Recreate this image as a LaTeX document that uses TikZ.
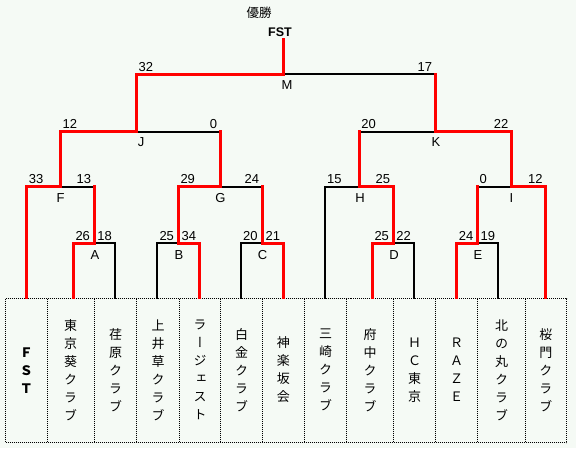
\documentclass[tikz,border=0pt]{standalone}
\usepackage{fontspec}
\setmainfont{Liberation Sans}
\newfontfamily\cjk[RawFeature={+vert}]{Noto Sans CJK JP}
\newfontfamily\cjkh{Noto Sans CJK JP}
\definecolor{bgcol}{RGB}{245,250,245}
\definecolor{wincol}{RGB}{255,0,0}
\tikzset{
  lose/.style={draw=black,line width=2pt,line cap=rect,line join=miter},
  winpath/.style={draw=wincol,line width=3pt,line cap=rect,line join=miter},
  boxline/.style={draw=black,line width=1pt,dash pattern=on 1pt off 1pt},
  lscore/.style={anchor=base west,inner sep=0pt,font=\fontsize{13}{13}\selectfont},
  rscore/.style={anchor=base east,inner sep=0pt,font=\fontsize{13}{13}\selectfont},
  mname/.style={anchor=north,inner sep=0pt,font=\fontsize{13}{13}\selectfont},
  team/.style={align=center,inner sep=0pt,font=\cjk\fontsize{13}{18}\selectfont}
}
\begin{document}
\begin{tikzpicture}[x=1pt,y=-1pt]
\useasboundingbox (0,0) rectangle (576,448);
\fill[bgcol] (0,0) rectangle (576,448);
% leaf tops
\coordinate (l1) at (26.7,297.5);
\coordinate (l2) at (73.3,297.5);
\coordinate (l3) at (115,297.5);
\coordinate (l4) at (157.3,297.5);
\coordinate (l5) at (199.3,297.5);
\coordinate (l6) at (241,297.5);
\coordinate (l7) at (283.3,297.5);
\coordinate (l8) at (325,297.5);
\coordinate (l9) at (372.3,297.5);
\coordinate (l10) at (414,297.5);
\coordinate (l11) at (456.7,297.5);
\coordinate (l12) at (498.3,297.5);
\coordinate (l13) at (545.7,297.5);
% junctions
\coordinate (jA) at (94.2,243);
\coordinate (jB) at (178.3,243);
\coordinate (jC) at (262.2,243);
\coordinate (jD) at (393.2,243);
\coordinate (jE) at (477.5,243);
\coordinate (jF) at (60.4,186.5);
\coordinate (jG) at (220.2,186.5);
\coordinate (jH) at (359.1,186.5);
\coordinate (jI) at (511.6,186.5);
\coordinate (jJ) at (136.5,131.5);
\coordinate (jK) at (435.4,131.5);
\coordinate (jM) at (283.5,74);
\coordinate (champ) at (283.5,39.5);
% boxes
\draw[boxline] (5.5,298.5) rectangle (566.5,442.5);
\foreach \x in {47.3,94.3,136.7,179,220.7,262.3,304.3,346.7,393.3,435.7,477.7,525}
  \draw[boxline] (\x,298.5) -- (\x,442.5);
% team names
\node[team,font=\cjk\bfseries\fontsize{13}{18}\selectfont] (t1) at (26.3,370.5) {Ｆ\\Ｓ\\Ｔ};
\node[team] (t2) at (70.7,370) {東\\京\\葵\\ク\\ラ\\ブ};
\node[team] (t3) at (115.5,370) {荏\\原\\ク\\ラ\\ブ};
\node[team] (t4) at (158,370) {上\\井\\草\\ク\\ラ\\ブ};
\node[team] (t5) at (200,370) {ラ\\ー\\ジ\\ェ\\ス\\ト};
\node[team] (t6) at (241.5,370) {白\\金\\ク\\ラ\\ブ};
\node[team] (t7) at (283.3,370) {神\\楽\\坂\\会};
\node[team] (t8) at (325.5,370) {三\\崎\\ク\\ラ\\ブ};
\node[team] (t9) at (370,370) {府\\中\\ク\\ラ\\ブ};
\node[team] (t10) at (414.7,370) {Ｈ\\Ｃ\\東\\京};
\node[team] (t11) at (456.7,370) {Ｒ\\Ａ\\Ｚ\\Ｅ};
\node[team] (t12) at (501.5,370) {北\\の\\丸\\ク\\ラ\\ブ};
\node[team] (t13) at (545.8,370) {桜\\門\\ク\\ラ\\ブ};
% losing (black) brackets
\draw[lose] (l2) |- (jA) -| (l3);
\draw[lose] (l4) |- (jB) -| (l5);
\draw[lose] (l6) |- (jC) -| (l7);
\draw[lose] (l9) |- (jD) -| (l10);
\draw[lose] (l11) |- (jE) -| (l12);
\draw[lose] (l1) |- (jF) -| (jA);
\draw[lose] (jB) |- (jG) -| (jC);
\draw[lose] (l8) |- (jH) -| (jD);
\draw[lose] (jE) |- (jI) -| (l13);
\draw[lose] (jF) |- (jJ) -| (jG);
\draw[lose] (jH) |- (jK) -| (jI);
\draw[lose] (jJ) |- (jM) -| (jK);
% winning (red) paths
\draw[winpath] (l1) |- (jF) |- (jJ) |- (jM) -- (champ);
\draw[winpath] (l2) |- (jA) -- (jA |- jF);
\draw[winpath] (l5) |- (jB) |- (jG) -- (jG |- jJ);
\draw[winpath] (l7) |- (jC) -- (jC |- jG);
\draw[winpath] (l9) |- (jD) |- (jH) -- (jH |- jK);
\draw[winpath] (l11) |- (jE) -- (jE |- jI);
\draw[winpath] (l13) |- (jI) |- (jK) -- (jK |- jM);
% scores
\node[lscore] (sA1) at (75.3,240) {26};
\node[rscore] (sA2) at (112,240) {18};
\node[lscore] (sB1) at (159.3,240) {25};
\node[rscore] (sB2) at (196.3,240) {34};
\node[lscore] (sC1) at (243,240) {20};
\node[rscore] (sC2) at (280.3,240) {21};
\node[lscore] (sD1) at (374.3,240) {25};
\node[rscore] (sD2) at (411,240) {22};
\node[lscore] (sE1) at (458.7,240) {24};
\node[rscore] (sE2) at (495.3,240) {19};
\node[lscore] (sF1) at (28.7,183.5) {33};
\node[rscore] (sF2) at (91.2,183.5) {13};
\node[lscore] (sG1) at (180.3,183.5) {29};
\node[rscore] (sG2) at (259.2,183.5) {24};
\node[lscore] (sH1) at (327,183.5) {15};
\node[rscore] (sH2) at (390.2,183.5) {25};
\node[lscore] (sI1) at (479.5,183.5) {0};
\node[rscore] (sI2) at (542.7,183.5) {12};
\node[lscore] (sJ1) at (62.4,128.5) {12};
\node[rscore] (sJ2) at (217.2,128.5) {0};
\node[lscore] (sK1) at (361.1,128.5) {20};
\node[rscore] (sK2) at (508.6,128.5) {22};
\node[lscore] (sM1) at (138.5,71) {32};
\node[rscore] (sM2) at (432.4,71) {17};
% match names
\node[mname] (nA) at (95,250) {A};
\node[mname] (nB) at (179,250) {B};
\node[mname] (nC) at (262.5,250) {C};
\node[mname] (nD) at (394,250) {D};
\node[mname] (nE) at (478,250) {E};
\node[mname] (nF) at (60.7,193) {F};
\node[mname] (nG) at (220.5,193) {G};
\node[mname] (nH) at (360,193) {H};
\node[mname] (nI) at (511.5,193) {I};
\node[mname] (nJ) at (141,137.5) {J};
\node[mname] (nK) at (436,137.5) {K};
\node[mname] (nM) at (287,80) {M};
% champion
\node[inner sep=0pt,font=\cjkh\fontsize{12.5}{12.5}\selectfont] (title) at (259,12.5) {優勝};
\node[anchor=base,inner sep=0pt,font=\bfseries\fontsize{12.5}{12.5}\selectfont] (winner) at (280,36) {FST};
\end{tikzpicture}
\end{document}
